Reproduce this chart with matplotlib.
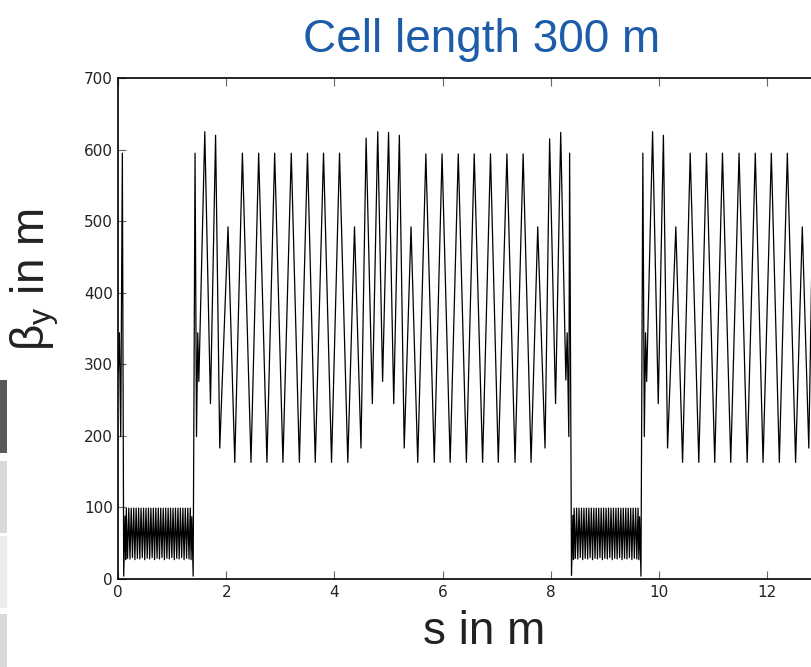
import numpy as np
import matplotlib
matplotlib.use("Agg")
import matplotlib.pyplot as plt
from matplotlib.patches import Rectangle

# lattice start (matching section), s in km, beta_y in m
start_s = [0.000, 0.020, 0.045, 0.075, 0.100, 0.125]
start_beta = [290, 344, 199, 595, 4, 88]

# first straight section (dense short cells)
dense1_s = [0.137, 0.148, 0.171, 0.194, 0.216, 0.239, 0.262, 0.285, 0.307, 0.330,
            0.353, 0.376, 0.398, 0.421, 0.444, 0.467, 0.489, 0.512, 0.535, 0.558,
            0.580, 0.603, 0.626, 0.649, 0.671, 0.694, 0.717, 0.740, 0.762, 0.785,
            0.808, 0.831, 0.853, 0.876, 0.899, 0.922, 0.944, 0.967, 0.990, 1.013,
            1.035, 1.058, 1.081, 1.104, 1.126, 1.149, 1.172, 1.195, 1.217, 1.240,
            1.263, 1.286, 1.308, 1.331, 1.346]
dense1_beta = [27, 99, 29, 99, 28, 99, 30, 99, 27, 99, 29, 99, 28, 99, 30, 99,
               27, 99, 29, 99, 28, 99, 30, 99, 27, 99, 29, 99, 28, 99, 30, 99,
               27, 99, 29, 99, 28, 99, 30, 99, 27, 99, 29, 99, 28, 99, 30, 99,
               27, 99, 29, 99, 28, 99, 27]

# first arc (300 m FODO cells)
arc1_s = [1.360, 1.385, 1.420, 1.447, 1.470, 1.490, 1.600, 1.705, 1.800, 1.877,
          2.030, 2.155, 2.296, 2.455, 2.597, 2.750, 2.893, 3.046, 3.200, 3.350,
          3.500, 3.644, 3.797, 3.945, 4.093, 4.246, 4.370, 4.490, 4.585, 4.700,
          4.800, 4.890, 5.000, 5.096, 5.200, 5.290, 5.416, 5.540, 5.690, 5.846,
          5.990, 6.140, 6.290, 6.440, 6.585, 6.740, 6.886, 7.030, 7.190, 7.340,
          7.490, 7.637, 7.760, 7.895, 7.980, 8.090, 8.185, 8.280, 8.305, 8.335,
          8.350, 8.385, 8.410]
arc1_beta = [87, 4, 595, 199, 344, 276, 625, 245, 620, 183,
             492, 163, 595, 163, 595, 163, 595, 163, 595, 163,
             595, 163, 595, 163, 595, 163, 492, 183, 616, 245,
             625, 276, 624, 245, 620, 183, 492, 163, 594, 163,
             594, 163, 594, 163, 594, 163, 594, 163, 594, 163,
             594, 163, 492, 183, 615, 245, 624, 278, 344, 199,
             595, 5, 89]

# second straight section
dense2_s = [8.422, 8.433, 8.456, 8.479, 8.501, 8.524, 8.547, 8.570, 8.592, 8.615,
            8.638, 8.661, 8.683, 8.706, 8.729, 8.752, 8.774, 8.797, 8.820, 8.843,
            8.865, 8.888, 8.911, 8.934, 8.956, 8.979, 9.002, 9.025, 9.047, 9.070,
            9.093, 9.116, 9.138, 9.161, 9.184, 9.207, 9.229, 9.252, 9.275, 9.298,
            9.320, 9.343, 9.366, 9.389, 9.411, 9.434, 9.457, 9.480, 9.502, 9.525,
            9.548, 9.571, 9.593, 9.616, 9.631]
dense2_beta = [27, 99, 29, 99, 28, 99, 30, 99, 27, 99, 29, 99, 28, 99, 30, 99,
               27, 99, 29, 99, 28, 99, 30, 99, 27, 99, 29, 99, 28, 99, 30, 99,
               27, 99, 29, 99, 28, 99, 30, 99, 27, 99, 29, 99, 28, 99, 30, 99,
               27, 99, 29, 99, 28, 99, 27]

# second arc (cut at the right edge)
arc2_s = [9.645, 9.670, 9.705, 9.732, 9.755, 9.775, 9.885, 9.990, 10.085, 10.162,
          10.315, 10.440, 10.581, 10.740, 10.882, 11.035, 11.178, 11.331, 11.485, 11.635,
          11.785, 11.929, 12.082, 12.230, 12.378, 12.531, 12.655, 12.775, 12.870]
arc2_beta = [87, 4, 595, 199, 344, 276, 625, 245, 620, 183,
             492, 163, 595, 163, 595, 163, 595, 163, 595, 163,
             595, 163, 595, 163, 595, 163, 492, 183, 616]

x_ticks = [0, 2, 4, 6, 8, 10, 12]
y_ticks = [0, 100, 200, 300, 400, 500, 600, 700]

s = np.concatenate([start_s, dense1_s, arc1_s, dense2_s, arc2_s])
beta = np.concatenate([start_beta, dense1_beta, arc1_beta, dense2_beta, arc2_beta])

plt.rcParams['mathtext.fontset'] = 'custom'
plt.rcParams['mathtext.rm'] = 'Liberation Sans'
plt.rcParams['mathtext.it'] = 'Liberation Sans'

fig = plt.figure(figsize=(8.12, 6.67), dpi=100)
ax = fig.add_axes([118.3 / 812, 88 / 667, 1 - 118.3 / 812, 501 / 667])
ax.plot(s, beta, color='black', lw=0.9)

ax.set_xlim(0, (812 - 118.3) / 54.05)
ax.set_ylim(0, 700)
ax.set_xticks(x_ticks)
ax.set_yticks(y_ticks)
ax.tick_params(direction='in', length=6, width=0.8, color='#666666',
               labelsize=11, labelcolor='#222222', top=True, right=False, pad=4)
ax.spines['right'].set_visible(False)
for sp in ['left', 'bottom', 'top']:
    ax.spines[sp].set_linewidth(1.2)

fig.text(482 / 812, 1 - 40 / 667, 'Cell length 300 m', color='#1c5ca8',
         fontsize=33, family='Liberation Sans', ha='center', va='center')
fig.text(484 / 812, 1 - 632 / 667, 's in m', color='#222222',
         fontsize=33, family='Liberation Sans', ha='center', va='center')
fig.text(35 / 812, 1 - 280 / 667, r'$\mathregular{\beta_y}$ in m', color='#222222',
         fontsize=33, family='Liberation Sans', ha='center', va='center', rotation=90)

# slide thumbnails peeking in at the left edge
for y0, y1, c in [(380, 453, '#5a5a5a'), (461, 533, '#d9d9d9'),
                  (536, 608, '#ececec'), (614, 667, '#d9d9d9')]:
    fig.add_artist(Rectangle((0, 1 - y1 / 667), 7 / 812, (y1 - y0) / 667,
                             transform=fig.transFigure, color=c, lw=0))

fig.savefig('out.png', dpi=100)
